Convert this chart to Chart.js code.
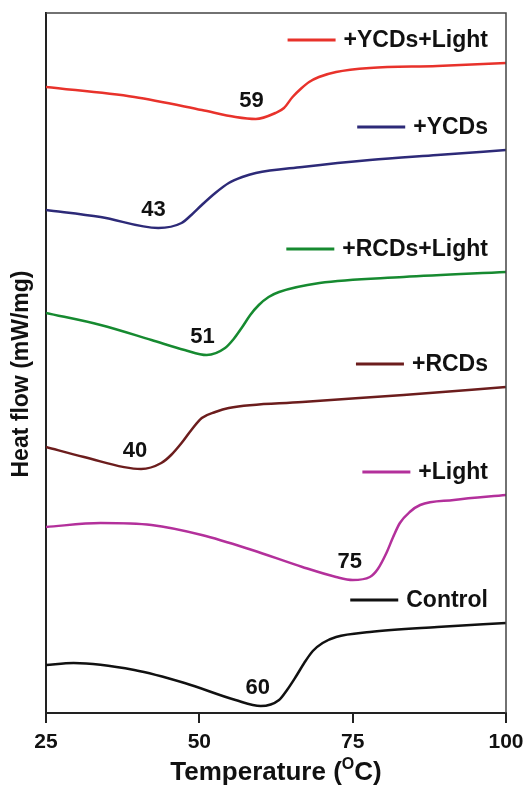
<!DOCTYPE html>
<html>
<head>
<meta charset="UTF-8">
<title>DSC curves</title>
<script src="https://cdn.jsdelivr.net/npm/chart.js"></script>
<style>
  html, body { margin: 0; padding: 0; background: #fff; }
</style>
</head>
<body>
<canvas id="dsc" width="527" height="785"></canvas>
<script>
// series names, colours and peak temperatures (top to bottom)
const names  = ['+YCDs+Light', '+YCDs', '+RCDs+Light', '+RCDs', '+Light', 'Control'];
const colors = ['#e8322b', '#2d2a78', '#168a30', '#6c1d1d', '#b3309b', '#111111'];
const peaks  = [59, 43, 51, 40, 75, 60];
const xTicks = [25, 50, 75, 100];

// temperature (°C) and heat flow (arbitrary offset units)
const tYL = [25, 39.4, 50.4, 55.9, 59.2, 62.4, 63.8, 65.2, 66.6, 67.9, 69.5, 72.3, 77.8, 88.8, 100];
const hYL = [6.26, 6.16, 6.03, 5.96, 5.94, 6.00, 6.05, 6.16, 6.245, 6.31, 6.36, 6.41, 6.45, 6.47, 6.50];

const tY = [25, 33.9, 43.3, 47.1, 48.7, 50.4, 52.6, 54.8, 57, 59.2, 66.8, 77.8, 88.8, 100];
const hY = [5.03, 4.96, 4.85, 4.90, 4.98, 5.08, 5.20, 5.30, 5.36, 5.40, 5.46, 5.53, 5.58, 5.63];

const tRL = [25, 33.9, 42.2, 47.6, 51.2, 54.2, 55.6, 57, 58.3, 59.7, 61.3, 63, 69.6, 83.3, 100];
const hRL = [4.00, 3.88, 3.73, 3.63, 3.58, 3.65, 3.74, 3.86, 3.98, 4.08, 4.16, 4.21, 4.30, 4.36, 4.41];

const tR = [25, 31.2, 40.5, 43.8, 45.4, 47.1, 48.7, 50.4, 52.6, 54.8, 66.8, 83.3, 100];
const hR = [2.66, 2.56, 2.44, 2.50, 2.58, 2.70, 2.83, 2.95, 3.01, 3.05, 3.11, 3.18, 3.26];

const tL = [25, 33.9, 42.2, 50.4, 58.6, 66.8, 72.3, 75, 77.8, 79.1, 80.5, 81.6, 82.7, 84.3, 86, 91.5, 100];
const hL = [1.86, 1.90, 1.88, 1.78, 1.63, 1.46, 1.36, 1.33, 1.36, 1.44, 1.60, 1.76, 1.90, 2.01, 2.08, 2.13, 2.18];

const tC = [25, 29.5, 39.4, 47.6, 55.9, 60, 63, 64.3, 65.7, 67.1, 68.5, 70.1, 72.3, 77.8, 88.8, 100];
const hC = [0.48, 0.50, 0.43, 0.30, 0.13, 0.07, 0.13, 0.23, 0.36, 0.50, 0.62, 0.70, 0.76, 0.81, 0.86, 0.90];

const temps = [tYL, tY, tRL, tR, tL, tC];
const flows = [hYL, hY, hRL, hR, hL, hC];

const FONT = '"Liberation Sans", Arial, sans-serif';
const AXIS = '#222';

// labels, peak values, frame and axis titles
const decor = {
  id: 'decor',
  afterDraw(chart) {
    const {ctx, chartArea: a, scales: {x, y}} = chart;
    ctx.save();

    // top and right edges of the frame
    ctx.strokeStyle = '#444';
    ctx.lineWidth = 1.5;
    ctx.beginPath();
    ctx.moveTo(a.left, a.top);
    ctx.lineTo(a.right, a.top);
    ctx.lineTo(a.right, a.bottom);
    ctx.stroke();

    ctx.fillStyle = '#111';
    chart.data.datasets.forEach((ds, i) => {
      const pts = ds.data;
      // peak value near the minimum
      let lo = pts[0];
      pts.forEach(p => { if (p.y < lo.y) lo = p; });
      ctx.font = 'bold 22px ' + FONT;
      ctx.textAlign = 'center';
      ctx.textBaseline = 'middle';
      ctx.fillText(String(peaks[i]), x.getPixelForValue(peaks[i]) - 3, y.getPixelForValue(lo.y) - 18);

      // legend entry above the curve end
      const last = pts[pts.length - 1];
      const ly = y.getPixelForValue(last.y) - 23;
      const right = a.right - 18;
      ctx.font = 'bold 23px ' + FONT;
      const w = ctx.measureText(ds.label).width;
      ctx.textAlign = 'right';
      ctx.fillText(ds.label, right, ly + 1);
      ctx.strokeStyle = ds.borderColor;
      ctx.lineWidth = 3;
      ctx.beginPath();
      ctx.moveTo(right - w - 56, ly);
      ctx.lineTo(right - w - 8, ly);
      ctx.stroke();
    });

    // tick labels
    ctx.font = 'bold 21px ' + FONT;
    ctx.textAlign = 'center';
    ctx.textBaseline = 'alphabetic';
    x.ticks.forEach(t => ctx.fillText(String(t.value), x.getPixelForValue(t.value), a.bottom + 35));

    // x title with superscript O
    const big = 'bold 26px ' + FONT, small = 'bold 16px ' + FONT;
    ctx.font = big;
    const p1 = 'Temperature (', p3 = 'C)';
    const w1 = ctx.measureText(p1).width, w3 = ctx.measureText(p3).width;
    ctx.font = small;
    const w2 = ctx.measureText('O').width;
    let tx = (a.left + a.right) / 2 - (w1 + w2 + w3) / 2;
    const ty = a.bottom + 67;
    ctx.textAlign = 'left';
    ctx.font = big;
    ctx.fillText(p1, tx, ty);
    tx += w1;
    ctx.font = small;
    ctx.fillText('O', tx, ty - 11);
    tx += w2;
    ctx.font = big;
    ctx.fillText(p3, tx, ty);

    // y title
    ctx.translate(22, (a.top + a.bottom) / 2 + 11);
    ctx.rotate(-Math.PI / 2);
    ctx.font = 'bold 23px ' + FONT;
    ctx.textAlign = 'center';
    ctx.textBaseline = 'middle';
    ctx.fillText('Heat flow (mW/mg)', 0, 0);

    ctx.restore();
  }
};

new Chart(document.getElementById('dsc'), {
  type: 'line',
  data: {
    datasets: names.map((n, i) => ({
      label: n,
      data: temps[i].map((t, k) => ({x: t, y: flows[i][k]})),
      borderColor: colors[i],
      borderWidth: 2.5,
      pointRadius: 0,
      fill: false,
      cubicInterpolationMode: 'monotone'
    }))
  },
  options: {
    responsive: false,
    animation: false,
    devicePixelRatio: 1,
    events: [],
    layout: {padding: {left: 0, right: 21, top: 13, bottom: 0}},
    plugins: {legend: {display: false}, tooltip: {enabled: false}},
    scales: {
      x: {
        type: 'linear',
        min: 25,
        max: 100,
        afterBuildTicks: s => { s.ticks = xTicks.map(v => ({value: v})); },
        afterFit: s => { s.height = 72; },
        ticks: {display: false},
        grid: {drawOnChartArea: false, drawTicks: true, tickLength: 10, color: AXIS, lineWidth: 2},
        border: {color: AXIS, width: 2}
      },
      y: {
        min: 0,
        max: 7,
        afterFit: s => { s.width = 46; },
        ticks: {display: false},
        grid: {drawOnChartArea: false, drawTicks: false},
        border: {color: AXIS, width: 2}
      }
    }
  },
  plugins: [decor]
});
</script>
</body>
</html>
